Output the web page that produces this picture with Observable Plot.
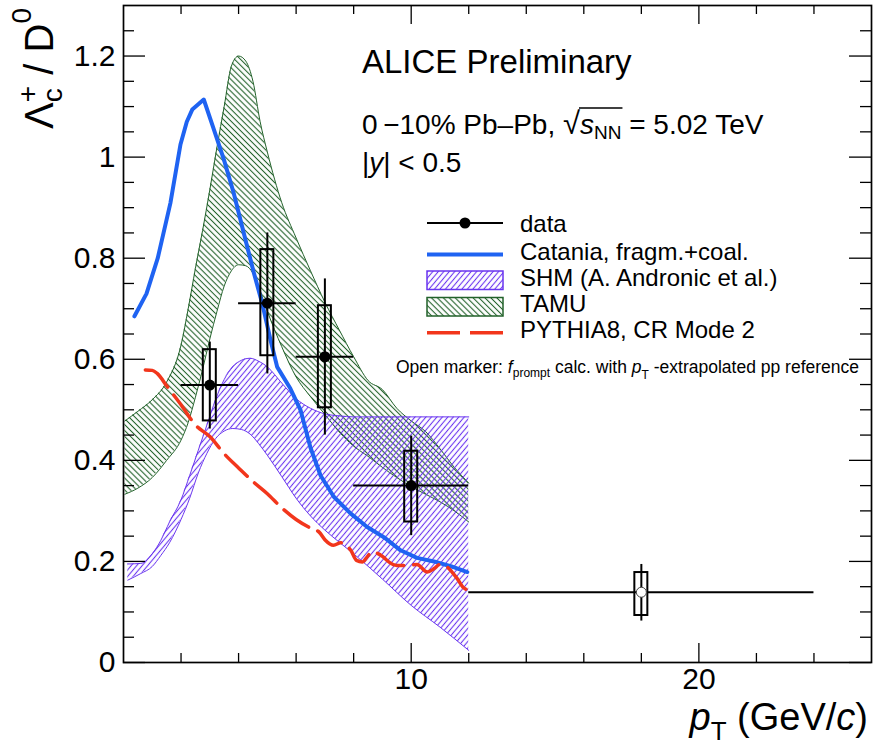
<!DOCTYPE html>
<html><head><meta charset="utf-8">
<script src="https://cdn.jsdelivr.net/npm/d3@7"></script>
<script src="https://cdn.jsdelivr.net/npm/@observablehq/plot@0.6"></script>
<style>body{margin:0;background:#fff} #chart{width:885px;height:755px}</style>
</head><body><div id="chart"></div>
<script>
// ---------- data ----------
const xMajorTicks = [10, 20];
const xTickLabels = ["10", "20"];
const xMinorTicks = [2, 4, 6, 8, 12, 14, 16, 18, 22, 24];
const yMajorTicks = [0, 0.2, 0.4, 0.6, 0.8, 1.0, 1.2];
const yTickLabels = ["0", "0.2", "0.4", "0.6", "0.8", "1", "1.2"];
const yMinorTicks = [0.05, 0.1, 0.15, 0.25, 0.3, 0.35, 0.45, 0.5, 0.55, 0.65, 0.7, 0.75, 0.85, 0.9, 0.95, 1.05, 1.1, 1.15, 1.25];

// ALICE data points
const ptX     = [3, 5, 7, 10, 18];
const ptY     = [0.549, 0.711, 0.605, 0.350, 0.139];
const ptXlo   = [2, 4, 6, 8, 12];
const ptXhi   = [4, 6, 8, 12, 24];
const statLo  = [0.462, 0.571, 0.450, 0.251, 0.082];
const statHi  = [0.634, 0.850, 0.759, 0.448, 0.194];
const sysLo   = [0.478, 0.607, 0.504, 0.278, 0.093];
const sysHi   = [0.619, 0.817, 0.706, 0.418, 0.178];
const ptOpen  = [false, false, false, false, true];

// Catania, fragm.+coal.
const catX = [0.38, 0.8, 1.19, 1.63, 1.98, 2.2, 2.39, 2.79, 3.14, 3.49, 3.83, 4.18, 4.53, 4.82, 5.11, 5.34, 5.8, 6.15, 6.5, 6.85, 7.31, 7.89, 8.47, 9.05, 9.63, 10.2, 10.79, 11.4, 11.95];
const catY = [0.685, 0.73, 0.80, 0.909, 1.025, 1.07, 1.094, 1.114, 1.055, 0.995, 0.929, 0.85, 0.771, 0.711, 0.638, 0.585, 0.542, 0.50, 0.425, 0.37, 0.328, 0.295, 0.268, 0.248, 0.222, 0.207, 0.200, 0.19, 0.179];

// SHM band
const shmX  = [0.15, 0.6, 1.0, 1.3, 1.6, 2.0, 2.3, 2.6, 2.9, 3.2, 3.5, 3.8, 4.1, 4.4, 4.7, 5.0, 5.5, 6.0, 6.5, 7.0, 7.5, 8.0, 9.0, 10.0, 11.0, 12.0];
const shmHi = [0.195, 0.196, 0.215, 0.242, 0.278, 0.322, 0.37, 0.42, 0.47, 0.52, 0.56, 0.585, 0.598, 0.602, 0.596, 0.585, 0.553, 0.522, 0.503, 0.492, 0.488, 0.486, 0.486, 0.486, 0.486, 0.486];
const shmLo = [0.163, 0.176, 0.19, 0.212, 0.237, 0.283, 0.325, 0.375, 0.414, 0.443, 0.458, 0.463, 0.461, 0.452, 0.433, 0.41, 0.368, 0.325, 0.29, 0.262, 0.238, 0.215, 0.165, 0.113, 0.07, 0.024];

// TAMU band
const tamuX  = [0.05, 0.5, 1.0, 1.5, 2.0, 2.25, 2.5, 2.75, 3.0, 3.25, 3.5, 3.75, 4.0, 4.25, 4.5, 4.75, 5.0, 5.5, 6.0, 6.5, 7.0, 7.5, 8.0, 8.5, 9.0, 9.5, 10.0, 10.5, 11.0, 11.5, 12.0];
const tamuHi = [0.478, 0.497, 0.52, 0.555, 0.628, 0.70, 0.78, 0.855, 0.935, 1.02, 1.10, 1.18, 1.20, 1.19, 1.15, 1.07, 1.01, 0.91, 0.84, 0.775, 0.713, 0.658, 0.605, 0.558, 0.54, 0.503, 0.478, 0.457, 0.423, 0.386, 0.355];
const tamuLo = [0.333, 0.345, 0.366, 0.40, 0.44, 0.475, 0.525, 0.58, 0.64, 0.695, 0.745, 0.775, 0.787, 0.785, 0.77, 0.735, 0.695, 0.625, 0.565, 0.526, 0.491, 0.456, 0.428, 0.408, 0.386, 0.366, 0.348, 0.333, 0.318, 0.30, 0.278];

// PYTHIA8, CR Mode 2
const pyX = [0.76, 1.0, 1.17, 1.52, 2.0, 2.5, 3.0, 3.5, 4.0, 4.5, 5.0, 5.5, 6.0, 6.5, 6.8, 7.0, 7.3, 7.55, 7.8, 7.9, 8.1, 8.3, 8.47, 8.64, 8.82, 9.0, 9.22, 9.5, 9.86, 10.2, 10.56, 10.8, 11.0, 11.25, 11.42, 11.6, 11.8, 11.9];
const pyY = [0.579, 0.578, 0.572, 0.546, 0.51, 0.47, 0.447, 0.413, 0.385, 0.358, 0.334, 0.306, 0.283, 0.266, 0.258, 0.243, 0.232, 0.237, 0.229, 0.222, 0.202, 0.199, 0.209, 0.219, 0.216, 0.210, 0.199, 0.192, 0.192, 0.194, 0.179, 0.186, 0.194, 0.189, 0.179, 0.166, 0.149, 0.145];

const legendLabels = ["data", "Catania, fragm.+coal.", "SHM (A. Andronic et al.)", "TAMU", "PYTHIA8, CR Mode 2"];

// ---------- styles ----------
const FONT = "'Liberation Sans', Arial, Helvetica, sans-serif";
const BLUE = "#1f63f2", PURPLE = "#6a35f0", GREEN = "#22622a", RED = "#f2361c";
const W = 885, H = 755, mL = 123, mR = 14, mT = 5, mB = 93;
const fw = W - mL - mR, fh = H - mT - mB;

const pts = ptX.map((x, i) => ({x, y: ptY[i], xlo: ptXlo[i], xhi: ptXhi[i], sLo: statLo[i], sHi: statHi[i], yLo: sysLo[i], yHi: sysHi[i], open: ptOpen[i]}));
const cat = catX.map((x, i) => ({x, y: catY[i]}));
const shm = shmX.map((x, i) => ({x, lo: shmLo[i], hi: shmHi[i]}));
const tamu = tamuX.map((x, i) => ({x, lo: tamuLo[i], hi: tamuHi[i]}));
const py = pyX.map((x, i) => ({x, y: pyY[i]}));

const plot = Plot.plot({
  width: W, height: H,
  marginLeft: mL, marginRight: mR, marginTop: mT, marginBottom: mB,
  x: {domain: [0, 26]},
  y: {domain: [0, 1.3]},
  style: {fontFamily: FONT, background: "white", overflow: "visible", color: "black"},
  marks: [
    Plot.areaY(tamu, {x: "x", y1: "lo", y2: "hi", fill: "url(#hatchTAMU)", curve: "monotone-x"}),
    Plot.lineY(tamu, {x: "x", y: "hi", stroke: GREEN, strokeWidth: 1, curve: "monotone-x"}),
    Plot.lineY(tamu, {x: "x", y: "lo", stroke: GREEN, strokeWidth: 1, curve: "monotone-x"}),
    Plot.areaY(shm, {x: "x", y1: "lo", y2: "hi", fill: "url(#hatchSHM)", curve: "monotone-x"}),
    Plot.lineY(shm, {x: "x", y: "hi", stroke: PURPLE, strokeWidth: 1, curve: "monotone-x"}),
    Plot.lineY(shm, {x: "x", y: "lo", stroke: PURPLE, strokeWidth: 1, curve: "monotone-x"}),
    Plot.lineY(cat, {x: "x", y: "y", stroke: BLUE, strokeWidth: 4}),
    Plot.lineY(py, {x: "x", y: "y", stroke: RED, strokeWidth: 3.5, strokeDasharray: "30,10", curve: "monotone-x"}),
    Plot.ruleY(pts, {y: "y", x1: "xlo", x2: "xhi", stroke: "black", strokeWidth: 2}),
    Plot.ruleX(pts, {x: "x", y1: "sLo", y2: "sHi", stroke: "black", strokeWidth: 2}),
    Plot.rect(pts, {x1: "x", x2: "x", y1: "yLo", y2: "yHi", insetLeft: -6.5, insetRight: -6.5, fill: "none", stroke: "black", strokeWidth: 2}),
    Plot.dot(pts.filter(d => !d.open), {x: "x", y: "y", r: 5.5, fill: "black", stroke: "none"}),
    Plot.dot(pts.filter(d => d.open), {x: "x", y: "y", r: 5, fill: "white", stroke: "#444", strokeWidth: 1}),
    // inward ticks on all four sides
    Plot.tickY(yMajorTicks, {y: d => d, insetRight: fw - 22, stroke: "black", strokeWidth: 1.3}),
    Plot.tickY(yMajorTicks, {y: d => d, insetLeft: fw - 22, stroke: "black", strokeWidth: 1.3}),
    Plot.tickY(yMinorTicks, {y: d => d, insetRight: fw - 11, stroke: "black", strokeWidth: 1.3}),
    Plot.tickY(yMinorTicks, {y: d => d, insetLeft: fw - 11, stroke: "black", strokeWidth: 1.3}),
    Plot.tickX(xMajorTicks, {x: d => d, insetTop: fh - 19, stroke: "black", strokeWidth: 1.3}),
    Plot.tickX(xMajorTicks, {x: d => d, insetBottom: fh - 19, stroke: "black", strokeWidth: 1.3}),
    Plot.tickX(xMinorTicks, {x: d => d, insetTop: fh - 9, stroke: "black", strokeWidth: 1.3}),
    Plot.tickX(xMinorTicks, {x: d => d, insetBottom: fh - 9, stroke: "black", strokeWidth: 1.3}),
    Plot.frame({stroke: "black", strokeWidth: 1.7}),
    Plot.axisY({ticks: yMajorTicks, tickSize: 0, tickPadding: 8, fontSize: 30, label: null,
      tickFormat: d => yTickLabels[yMajorTicks.indexOf(d)]}),
    Plot.axisX({ticks: xMajorTicks, tickSize: 0, tickPadding: 5, fontSize: 30, label: null,
      tickFormat: d => xTickLabels[xMajorTicks.indexOf(d)]})
  ]
});
document.getElementById("chart").appendChild(plot);

const svg = d3.select(plot);
const defs = svg.insert("defs", ":first-child");
function hatch(id, color, angle, spacing) {
  const p = defs.append("pattern").attr("id", id).attr("patternUnits", "userSpaceOnUse")
    .attr("width", spacing).attr("height", spacing).attr("patternTransform", `rotate(${angle})`);
  p.append("line").attr("x1", spacing / 2).attr("y1", -1).attr("x2", spacing / 2).attr("y2", spacing + 1)
    .attr("stroke", color).attr("stroke-width", 1.1);
}
hatch("hatchSHM", PURPLE, 40, 4.2);
hatch("hatchTAMU", GREEN, -45, 4.2);

// rich text helper: segments placed one after another
function rich(parent, segs, {x = 0, y = 0, anchor = "start", size = 24} = {}) {
  const g = parent.append("g").attr("font-family", FONT).attr("text-anchor", "start");
  let cx = 0; const items = [];
  for (const s of segs) {
    const fs = s.size || size;
    const t = g.append("text").attr("font-size", fs).attr("y", s.dy || 0).attr("text-anchor", "start")
      .style("white-space", "pre").attr("fill", "black").text(s.t);
    if (s.italic) t.attr("font-style", "italic");
    const w = t.node().getComputedTextLength();
    const px = s.stack ? items[items.length - 1].x : cx;
    t.attr("x", px);
    items.push({x: px, w});
    cx = s.stack ? Math.max(cx, px + w) : px + w;
  }
  const off = anchor === "end" ? -cx : anchor === "middle" ? -cx / 2 : 0;
  g.attr("transform", `translate(${x + off},${y})`);
  return {g, items, width: cx, off};
}

// header texts
rich(svg, [{t: "ALICE Preliminary"}], {x: 362, y: 73, size: 33});
const l2 = rich(svg, [
  {t: "0\u2009\u221210% Pb\u2013Pb, "},
  {t: "\u221A", size: 31},
  {t: "s", italic: true},
  {t: "NN", size: 19, dy: 5},
  {t: " = 5.02 TeV"}
], {x: 362, y: 134, size: 28});
{
  const it = l2.items;
  const x1 = 362 + it[1].x + it[1].w - 1, x2 = 362 + it[3].x + it[3].w + 1;
  svg.append("line").attr("x1", x1).attr("x2", x2).attr("y1", 134 - 26).attr("y2", 134 - 26)
    .attr("stroke", "black").attr("stroke-width", 1.6);
}
rich(svg, [{t: "|"}, {t: "y", italic: true}, {t: "| < 0.5"}], {x: 362, y: 171.5, size: 28});

// legend
const lx1 = 427, lx2 = 503, ltx = 520;
const legBase = [231.5, 260, 286, 311.5, 338];
svg.append("line").attr("x1", lx1).attr("x2", lx2).attr("y1", 223).attr("y2", 223).attr("stroke", "black").attr("stroke-width", 2);
svg.append("circle").attr("cx", (lx1 + lx2) / 2).attr("cy", 223).attr("r", 5.5).attr("fill", "black");
svg.append("line").attr("x1", lx1).attr("x2", lx2).attr("y1", 254.5).attr("y2", 254.5).attr("stroke", BLUE).attr("stroke-width", 4);
svg.append("rect").attr("x", lx1).attr("y", 271).attr("width", lx2 - lx1).attr("height", 18.5)
  .attr("fill", "url(#hatchSHM)").attr("stroke", PURPLE).attr("stroke-width", 1.5);
svg.append("rect").attr("x", lx1).attr("y", 297.5).attr("width", lx2 - lx1).attr("height", 18.5)
  .attr("fill", "url(#hatchTAMU)").attr("stroke", GREEN).attr("stroke-width", 1.5);
svg.append("line").attr("x1", lx1).attr("x2", lx2).attr("y1", 332.7).attr("y2", 332.7).attr("stroke", RED)
  .attr("stroke-width", 3.5).attr("stroke-dasharray", "33,10");
legendLabels.forEach((s, i) => rich(svg, [{t: s}], {x: ltx, y: legBase[i], size: 24}));

rich(svg, [
  {t: "Open marker: "},
  {t: "f", italic: true},
  {t: "prompt", size: 12, dy: 4},
  {t: " calc. with "},
  {t: "p", italic: true},
  {t: "T", size: 12, dy: 6},
  {t: " -extrapolated pp reference"}
], {x: 396, y: 373, size: 17.5});

// axis titles
rich(svg, [
  {t: "p", italic: true},
  {t: "T", size: 26, dy: 10},
  {t: " (GeV/"},
  {t: "c", italic: true},
  {t: ")"}
], {x: 868, y: 730, anchor: "end", size: 38});

const yg = svg.append("g").attr("transform", "translate(53,8) rotate(-90)");
rich(yg, [
  {t: "\u039B"},
  {t: "+", size: 28, dy: -16},
  {t: "c", size: 28, dy: 9, stack: true},
  {t: " / D"},
  {t: "0", size: 28, dy: -22}
], {x: 0, y: 0, anchor: "end", size: 40});
</script></body></html>
